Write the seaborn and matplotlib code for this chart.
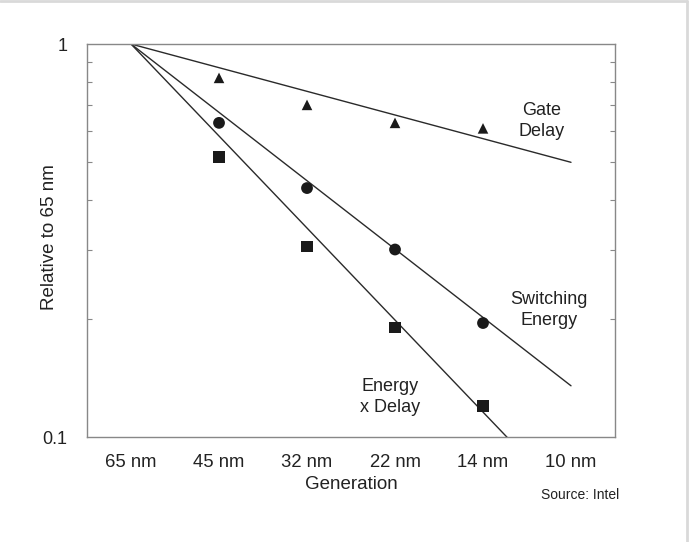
import numpy as np
import pandas as pd
import matplotlib
matplotlib.use("Agg")
import matplotlib.pyplot as plt
from matplotlib.lines import Line2D
from matplotlib.ticker import LogLocator, NullFormatter, FixedLocator
import seaborn as sns

# Data (relative to 65 nm)
generations = ["65 nm", "45 nm", "32 nm", "22 nm", "14 nm", "10 nm"]
measured_gens = ["45 nm", "32 nm", "22 nm", "14 nm"]
gate_delay = [0.82, 0.70, 0.63, 0.61]
switching_energy = [0.63, 0.43, 0.30, 0.195]
energy_x_delay = [0.515, 0.305, 0.19, 0.12]

# Trend lines: start at 65 nm (=1) and run to 10 nm
trend_gens = ["65 nm", "10 nm"]
gate_trend = [1.0, 0.50]
switching_trend = [1.0, 0.135]
energy_delay_trend = [1.0, 0.0675]

sns.set_theme(style="white")
plt.rcParams["font.family"] = ["Liberation Sans", "DejaVu Sans"]

pos = {g: i for i, g in enumerate(generations)}

points = pd.DataFrame({
    "gen": measured_gens * 3,
    "value": gate_delay + switching_energy + energy_x_delay,
    "series": ["Gate Delay"] * 4 + ["Switching Energy"] * 4 + ["Energy x Delay"] * 4,
})
points["x"] = points["gen"].map(pos)

trends = pd.DataFrame({
    "gen": trend_gens * 3,
    "value": gate_trend + switching_trend + energy_delay_trend,
    "series": ["Gate Delay"] * 2 + ["Switching Energy"] * 2 + ["Energy x Delay"] * 2,
})
trends["x"] = trends["gen"].map(pos)

fig = plt.figure(figsize=(6.89, 5.42), dpi=100)
ax = fig.add_axes([0.1263, 0.1937, 0.7663, 0.7251])

ink = "#1a1a1a"
txt = "#222222"

for name, grp in trends.groupby("series"):
    sns.lineplot(data=grp, x="x", y="value", ax=ax, color="#2a2a2a",
                 linewidth=1.0, legend=False)

markers = {"Gate Delay": "^", "Switching Energy": "o", "Energy x Delay": "s"}
sizes = {"Gate Delay": 58, "Switching Energy": 72, "Energy x Delay": 70}
for name, grp in points.groupby("series"):
    sns.scatterplot(data=grp, x="x", y="value", ax=ax, marker=markers[name],
                    s=sizes[name], color=ink, edgecolor="none", legend=False,
                    zorder=3)

ax.set_yscale("log")
ax.set_ylim(0.1, 1)
ax.set_xlim(-0.5, 5.5)

ax.set_xticks(range(len(generations)))
ax.set_xticklabels(generations)
ax.yaxis.set_major_locator(FixedLocator([0.1, 1]))
ax.set_yticklabels(["0.1", "1"])
ax.yaxis.set_minor_locator(LogLocator(base=10, subs=np.arange(2, 10)))
ax.yaxis.set_minor_formatter(NullFormatter())

ax.tick_params(axis="x", length=0, pad=12, labelsize=13.3, colors=txt)
ax.tick_params(axis="y", which="major", length=0, pad=14, labelsize=13,
               colors=txt)
ax.tick_params(axis="y", which="minor", direction="in", length=3.5,
               width=0.8, color="#888888", left=True, right=True)

for sp in ax.spines.values():
    sp.set_color("#888888")
    sp.set_linewidth(1.0)

ax.set_xlabel("Generation", fontsize=13.5, color=txt, labelpad=4)
ax.set_ylabel("Relative to 65 nm", fontsize=13.5, color=txt)
ax.yaxis.set_label_coords(-0.055, 0.509)

ax.text(4.67, 0.636, "Gate\nDelay", fontsize=13, ha="center", va="center",
        color=txt, linespacing=1.3)
ax.text(4.75, 0.2105, "Switching\nEnergy", fontsize=13, ha="center",
        va="center", color=txt, linespacing=1.3)
ax.text(2.94, 0.1267, "Energy\nx Delay", fontsize=13, ha="center",
        va="center", color=txt, linespacing=1.3)

fig.text(0.842, 0.087, "Source: Intel", fontsize=10, ha="center",
         va="center", color=txt)

# light frame on top and right edges of the image
fig.add_artist(Line2D([0, 0.997], [0.998, 0.998], transform=fig.transFigure,
                      color="#d9d9d9", linewidth=2))
fig.add_artist(Line2D([0.997, 0.997], [0, 0.998], transform=fig.transFigure,
                      color="#d9d9d9", linewidth=2))

fig.savefig("out.png", dpi=100)
